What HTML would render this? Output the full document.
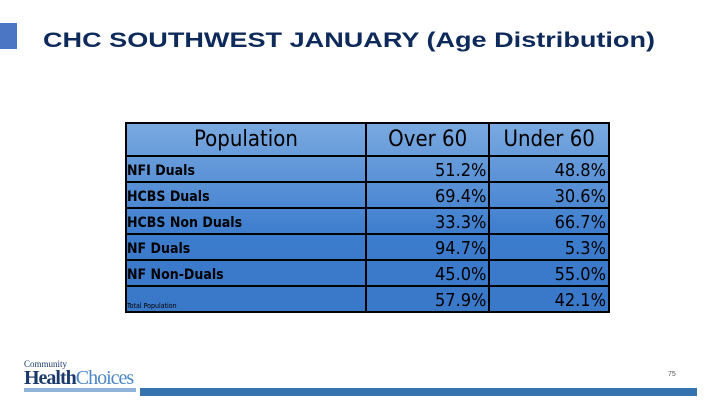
<!DOCTYPE html>
<html><head><meta charset="utf-8"><style>
body{margin:0;width:720px;height:405px;background:#fff;position:relative;overflow:hidden;font-family:"Liberation Sans",sans-serif}
.abs{position:absolute}
table{border-collapse:collapse;position:absolute;left:125px;top:122px;width:485px;background:linear-gradient(#7aa9e0,#3c7ccd 60%,#3a78c8);font-family:"DejaVu Sans Condensed","Liberation Sans",sans-serif}
td{border:2px solid #000;padding:0 2px;height:24px;color:#000;line-height:20px}
td.h{height:31px;font-size:22px;text-align:center;line-height:28px}
td.l{font-weight:bold;font-size:14px;vertical-align:bottom;padding:0 0 0 0}
td.v{text-align:right;font-size:18px;font-family:"DejaVu Sans Condensed","Liberation Sans",sans-serif;vertical-align:bottom}
</style></head><body>
<div class="abs" style="left:0;top:23px;width:17px;height:26px;background:#4a76c4"></div>
<svg class="abs" style="left:0;top:0" width="720" height="60"><text x="43" y="47" font-family="Liberation Sans" font-weight="bold" font-size="21" fill="#0d2a5a" textLength="612" lengthAdjust="spacingAndGlyphs">CHC SOUTHWEST JANUARY (Age Distribution)</text></svg>
<table>
<colgroup><col style="width:241px"><col style="width:124px"><col style="width:120px"></colgroup>
<tr><td class="h">Population</td><td class="h">Over 60</td><td class="h">Under 60</td></tr>
<tr><td class="l">NFI Duals</td><td class="v">51.2%</td><td class="v">48.8%</td></tr>
<tr><td class="l">HCBS Duals</td><td class="v">69.4%</td><td class="v">30.6%</td></tr>
<tr><td class="l">HCBS Non Duals</td><td class="v">33.3%</td><td class="v">66.7%</td></tr>
<tr><td class="l">NF Duals</td><td class="v">94.7%</td><td class="v">5.3%</td></tr>
<tr><td class="l">NF Non-Duals</td><td class="v">45.0%</td><td class="v">55.0%</td></tr>
<tr><td class="l" style="font-size:7px;font-weight:normal;line-height:9px">Total Population</td><td class="v">57.9%</td><td class="v">42.1%</td></tr>
</table>
<div class="abs" style="left:24px;top:360px;width:112px;height:33px">
<div style="font-family:'Liberation Serif',serif;font-size:9px;color:#1b3a6b;line-height:9px">Community</div>
<div style="font-family:'Liberation Serif',serif;font-size:20px;line-height:18px;color:#1b3a6b;font-weight:bold;letter-spacing:-1px">Health<span style="color:#4a86c8;font-weight:normal">Choices</span></div>
<div style="height:4px;background:#8fb3d9;margin-top:1px"></div>
</div>
<div class="abs" style="left:668px;top:371px;font-size:7px;color:#555">75</div>
<div class="abs" style="left:140px;top:388px;width:557px;height:8px;background:#3573b0"></div>
</body></html>
